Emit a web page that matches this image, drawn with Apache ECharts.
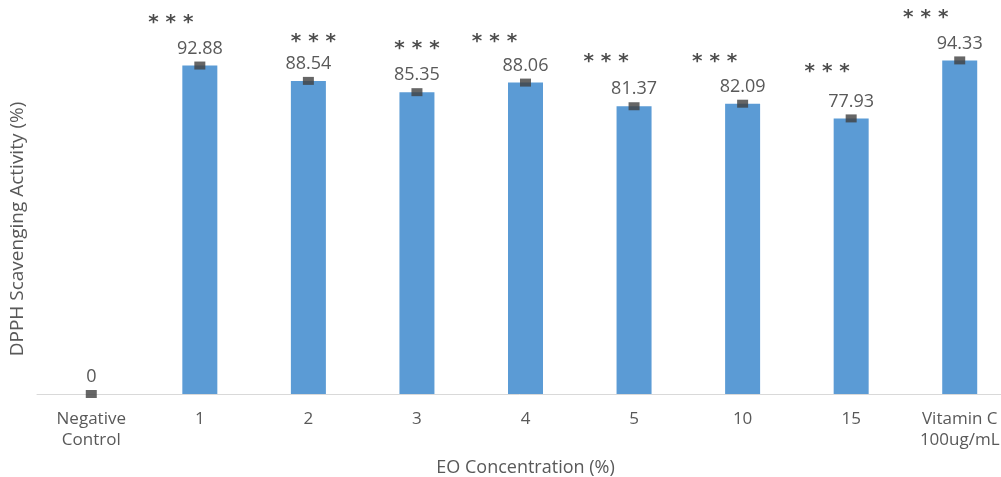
<!DOCTYPE html>
<html>
<head>
<meta charset="utf-8">
<script src="https://cdn.jsdelivr.net/npm/echarts@6/dist/echarts.min.js"></script>
<style>html,body{margin:0;padding:0;background:#fff}#c{width:1001px;height:477px}</style>
</head>
<body>
<div id="c"></div>
<script>
const categories = ['Negative\nControl', '1', '2', '3', '4', '5', '10', '15', 'Vitamin C\n100ug/mL'];
const activity = [0, 92.88, 88.54, 85.35, 88.06, 81.37, 82.09, 77.93, 94.33];
const starLevels = [null, 106.0, 100.7, 98.7, 100.7, 95.0, 95.0, 92.2, 107.5];
const starText = '* * *';
const starShift = [0, -29, 5, 0, -31, -28, -28, -24, -34];

const chart = echarts.init(document.getElementById('c'));
const font = 'Open Sans';
chart.setOption({
  animation: false,
  grid: { left: 37, width: 977, top: 5, height: 389, outerBoundsMode: 'none', containLabel: false },
  xAxis: {
    type: 'category',
    data: categories,
    axisLine: { lineStyle: { color: '#d9d9d9', width: 1 } },
    axisTick: { show: false },
    axisLabel: { color: '#595959', fontFamily: font, fontSize: 17, lineHeight: 21, margin: 15, interval: 0 },
    name: 'EO Concentration (%)',
    nameLocation: 'middle',
    nameGap: 65,
    nameTextStyle: { color: '#595959', fontFamily: font, fontSize: 18 }
  },
  yAxis: {
    type: 'value', min: 0, max: 110, show: false
  },
  graphic: [{
    type: 'text', x: 18, y: 229, rotation: Math.PI / 2,
    style: { text: 'DPPH Scavenging Activity (%)', fill: '#595959', font: '19px "Open Sans"', align: 'center', verticalAlign: 'middle' }
  }],
  series: [
    {
      type: 'bar', data: activity, barWidth: 35,
      itemStyle: { color: '#5b9bd5' },
      label: { show: true, position: 'top', distance: 8, color: '#595959', fontFamily: font, fontSize: 18,
        formatter: p => String(p.value) }
    },
    {
      type: 'scatter', data: activity, symbol: 'rect', symbolSize: [11, 8],
      itemStyle: { color: '#404040' }, z: 5, silent: true
    },
    {
      type: 'scatter', clip: false, symbolSize: 0, silent: true,
      data: starLevels.map((v, i) => v === null ? null : {
        value: v,
        label: { offset: [starShift[i], 4] }
      }),
      label: { show: true, position: 'inside', formatter: starText, color: '#1f1f1f',
        fontFamily: 'DejaVu Sans', fontSize: 20, fontWeight: 'bold' }
    }
  ]
});
</script>
</body>
</html>
